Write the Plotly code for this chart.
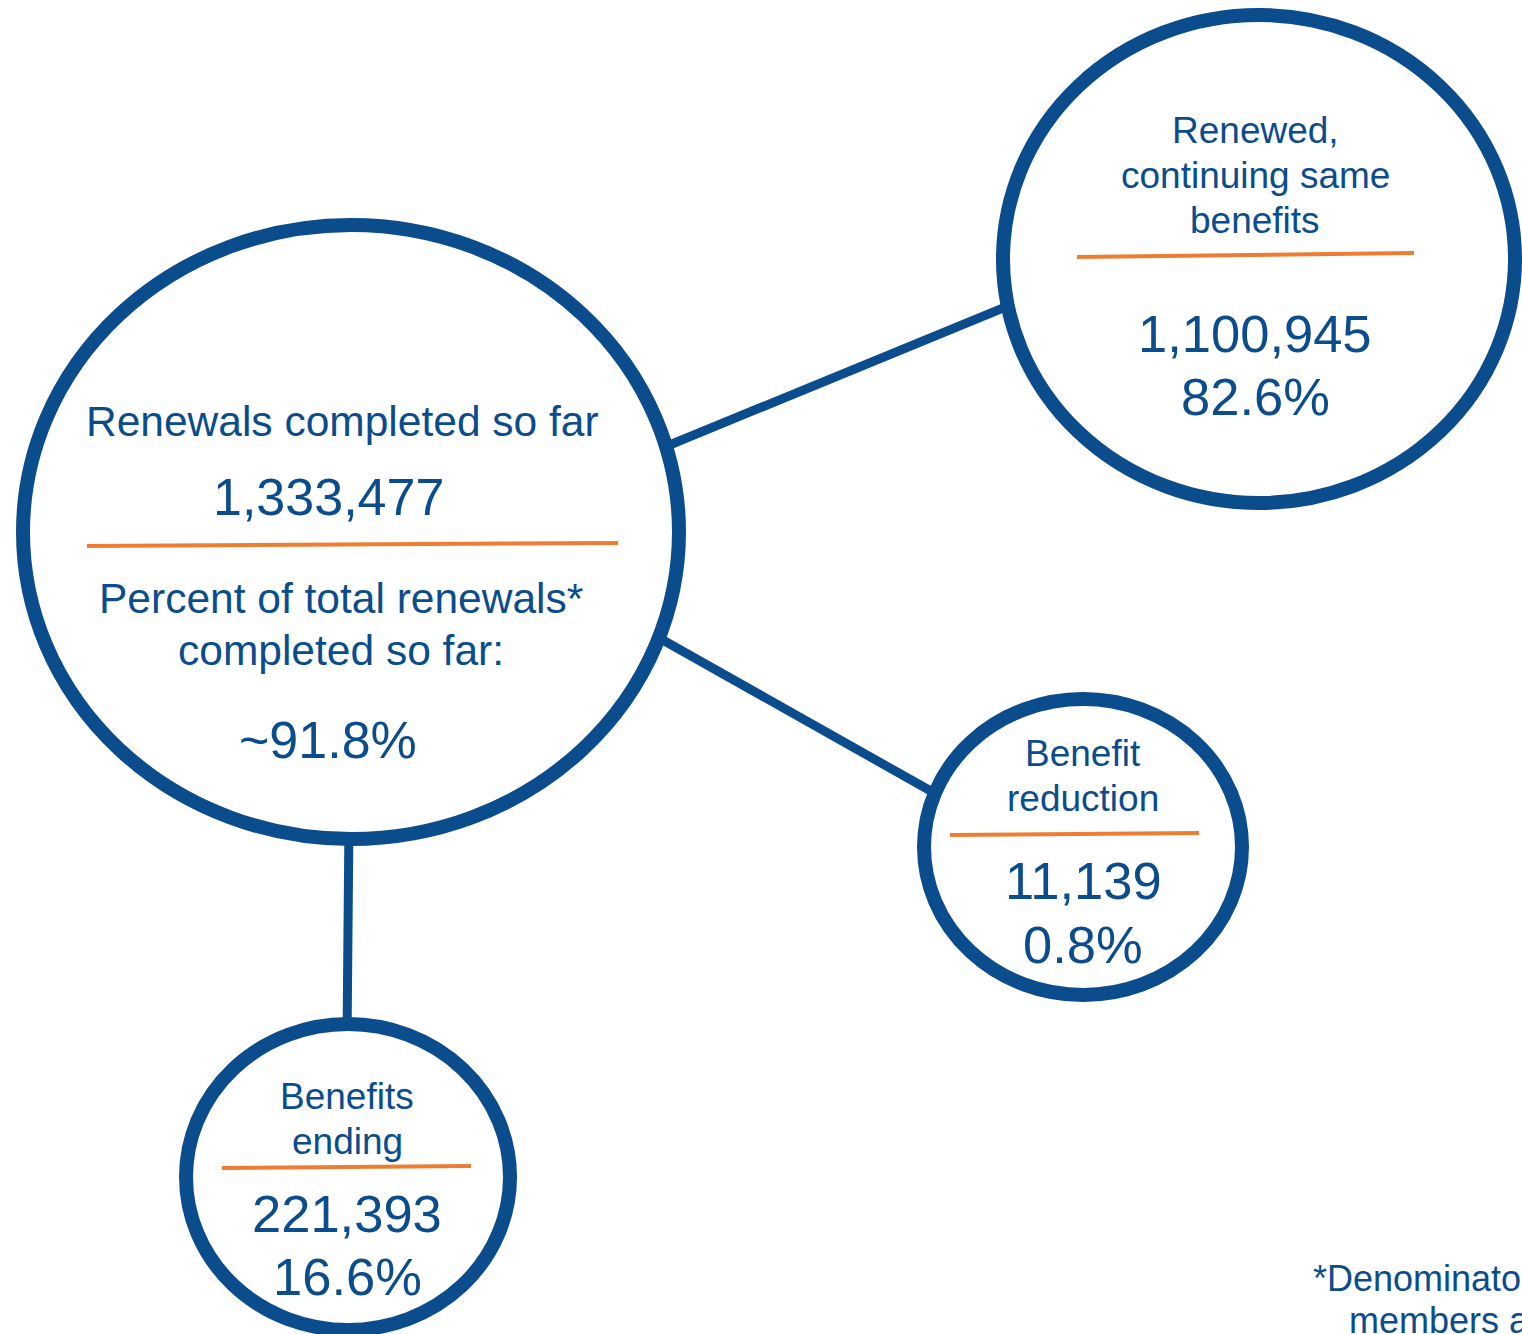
import plotly.graph_objects as go

# ---- data ----
main_title = "Renewals completed so far"
main_count = "1,333,477"
main_pct_label = ["Percent of total renewals*", "completed so far:"]
main_pct = "~91.8%"

outcome_labels = [
    ["Renewed,", "continuing same", "benefits"],
    ["Benefit", "reduction"],
    ["Benefits", "ending"],
]
outcome_counts = ["1,100,945", "11,139", "221,393"]
outcome_pcts = ["82.6%", "0.8%", "16.6%"]

footnote = ["*Denominator", "members are"]

# ---- styling / layout ----
W, H = 1522, 1334
BLUE = "#0B4C8C"
ORANGE = "#ED7D31"
FONT = "Liberation Sans, Arial, sans-serif"

fig = go.Figure()
shapes = []
ann = []

def add_text(x, y, text, size, xanchor="center"):
    ann.append(dict(x=x, y=y, xref="x", yref="y", text=text, showarrow=False,
                    xanchor=xanchor, yanchor="middle",
                    font=dict(family=FONT, size=size, color=BLUE)))

def line(x0, y0, x1, y1, color, width):
    shapes.append(dict(type="line", x0=x0, y0=y0, x1=x1, y1=y1, xref="x", yref="y",
                       line=dict(color=color, width=width)))

def ellipse(cx, cy, rx, ry):
    shapes.append(dict(type="circle", x0=cx - rx, x1=cx + rx, y0=cy - ry, y1=cy + ry,
                       xref="x", yref="y", fillcolor="white",
                       line=dict(color=BLUE, width=14)))

# connectors (drawn first, circles with white fill cover their ends)
line(655, 451, 1020, 301, BLUE, 9)
line(645, 630, 945, 799, BLUE, 9)
line(349, 820, 347, 1040, BLUE, 9)

# circles
ellipse(351, 532, 328, 307)
ellipse(1259, 259, 256, 244)
ellipse(1083, 847, 159, 148)
ellipse(348, 1177, 162, 153)

# orange dividers
line(87, 546, 618, 543, ORANGE, 4)
line(1077, 257, 1414, 253, ORANGE, 4)
line(950, 835, 1199, 833, ORANGE, 4)
line(222, 1168, 471, 1166, ORANGE, 4)

# main circle text
add_text(342, 421, main_title, 42.5)
add_text(328, 497, main_count, 52)
add_text(341, 598, main_pct_label[0], 42.5)
add_text(341, 650, main_pct_label[1], 42.5)
add_text(328, 740, main_pct, 52)

# outcome circles text
centers = [(1255, [130, 175, 220], 333, 396),
           (1083, [753, 798], 880, 944),
           (347, [1096, 1141], 1213, 1276)]
for i, (cx, ys, yc, yp) in enumerate(centers):
    for lbl, yy in zip(outcome_labels[i], ys):
        add_text(cx, yy, lbl, 37)
    add_text(cx, yc, outcome_counts[i], 52.5)
    add_text(cx, yp, outcome_pcts[i], 52.5)

# footnote (clipped at right edge, as in the source)
add_text(1311, 1278, footnote[0], 36, xanchor="left")
add_text(1347, 1320, footnote[1], 36, xanchor="left")

fig.update_layout(
    width=W, height=H,
    margin=dict(l=0, r=0, t=0, b=0),
    paper_bgcolor="white", plot_bgcolor="white",
    xaxis=dict(range=[0, W], visible=False, fixedrange=True),
    yaxis=dict(range=[H, 0], visible=False, fixedrange=True),
    shapes=shapes, annotations=ann, showlegend=False,
)

fig.write_html("out.html")
